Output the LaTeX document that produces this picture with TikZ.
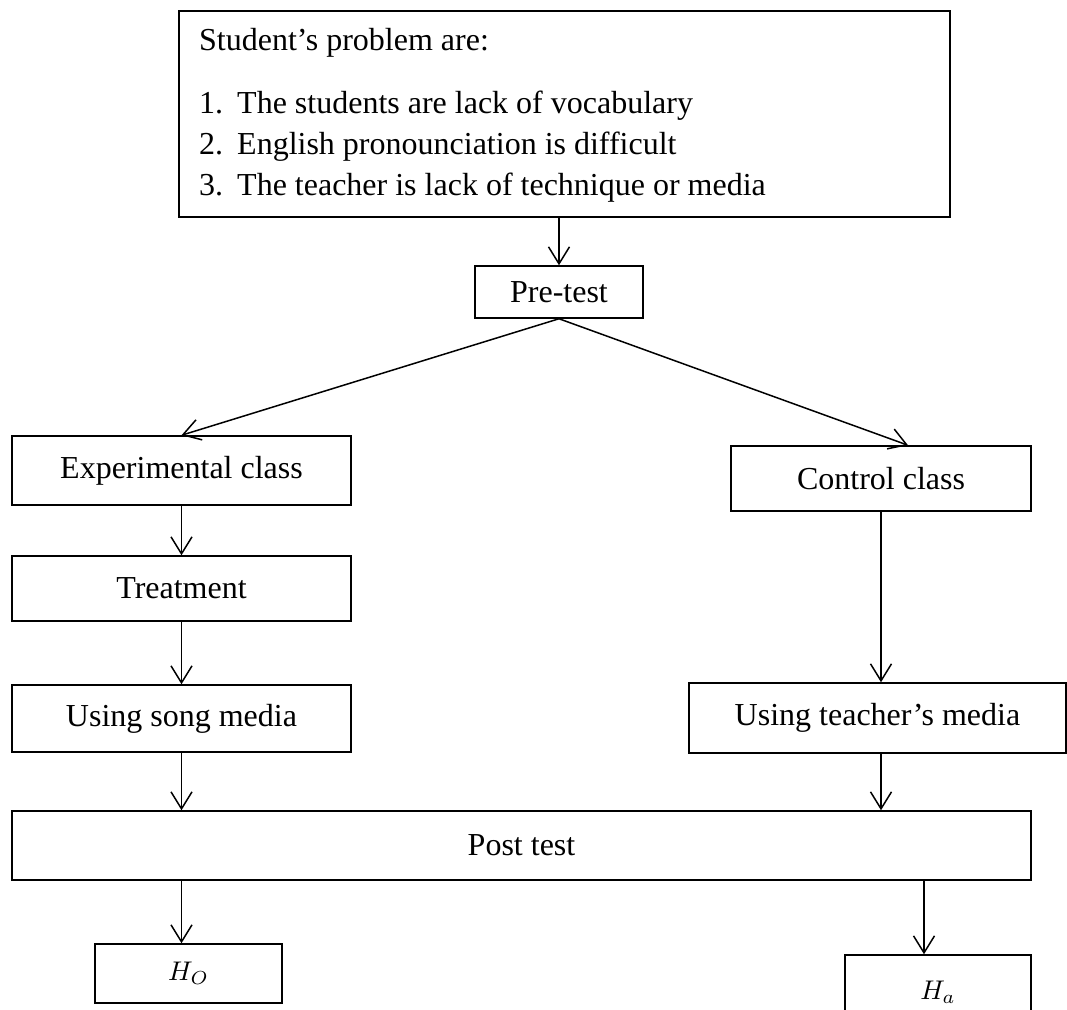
\documentclass[tikz,border=0pt]{standalone}
\usepackage{fontspec}
\usepackage{graphicx}
\setmainfont{Liberation Serif}
\usetikzlibrary{arrows.meta}
\begin{document}
\begin{tikzpicture}[x=1pt,y=-1pt,
  box/.style={draw, line width=1.5pt, inner sep=0pt, font=\fontsize{32}{38}\selectfont},
  mbox/.style={draw, line width=1.5pt, inner sep=0pt},
  txt/.style={anchor=base west, inner sep=0pt, font=\fontsize{32}{38}\selectfont},
  conn/.style={line width=1.5pt, -{Straight Barb[length=17pt,width=21pt,line width=1.5pt]}}]
\useasboundingbox (0,0) rectangle (1067,1009);
\clip (0,0) rectangle (1067,1009);
% top box
\node[box, minimum width=771pt, minimum height=206pt] (top) at (564.5,114) {};
\node[txt] (t0) at (199,50) {Student’s problem are:};
\node[txt] (n1) at (199,113) {1.};
\node[txt] (i1) at (237,113) {The students are lack of vocabulary};
\node[txt] (n2) at (199,154) {2.};
\node[txt] (i2) at (237,154) {English pronounciation is difficult};
\node[txt] (n3) at (199,195) {3.};
\node[txt] (i3) at (237,195) {The teacher is lack of technique or media};
% boxes
\node[box, minimum width=168pt, minimum height=52pt] (pre) at (559,292) {Pre-test};
\node[box, minimum width=339pt, minimum height=69pt] (exp) at (181.5,470.5) {Experimental class};
\node[box, minimum width=339pt, minimum height=65pt] (treat) at (181.5,588.5) {Treatment};
\node[box, minimum width=339pt, minimum height=67pt] (song) at (181.5,718.5) {Using song media};
\node[box, minimum width=300pt, minimum height=65pt] (ctrl) at (881,478.5) {Control class};
\node[box, minimum width=377pt, minimum height=70pt] (teach) at (877.5,718) {Using teacher’s media};
\node[box, minimum width=1019pt, minimum height=69pt] (post) at (521.5,845.5) {Post test};
\node[mbox, minimum width=187pt, minimum height=59pt] (ho) at (188.5,973.5) {\scalebox{2.7}{$H_O$}};
\node[mbox, minimum width=186pt, minimum height=75pt] (ha) at (938,992.5) {\scalebox{2.7}{$H_a$}};
\coordinate (ctip) at (908,0);
\coordinate (hatip) at (924,0);
% connectors
\draw[conn] (pre.north |- top.south) -- (pre.north);
\draw[conn] (pre.south) -- (exp.north);
\draw[conn] (pre.south) -- (ctrl.north -| ctip);
\draw[conn] (exp.south) -- (treat.north);
\draw[conn] (treat.south) -- (song.north);
\draw[conn] (ctrl.south) -- (ctrl.south |- teach.north);
\draw[conn] (song.south) -- (song.south |- post.north);
\draw[conn] (ctrl.south |- teach.south) -- (ctrl.south |- post.north);
\draw[conn] (post.south -| song.south) -- (ho.north -| song.south);
\draw[conn] (post.south -| hatip) -- (ha.north -| hatip);
\end{tikzpicture}
\end{document}
